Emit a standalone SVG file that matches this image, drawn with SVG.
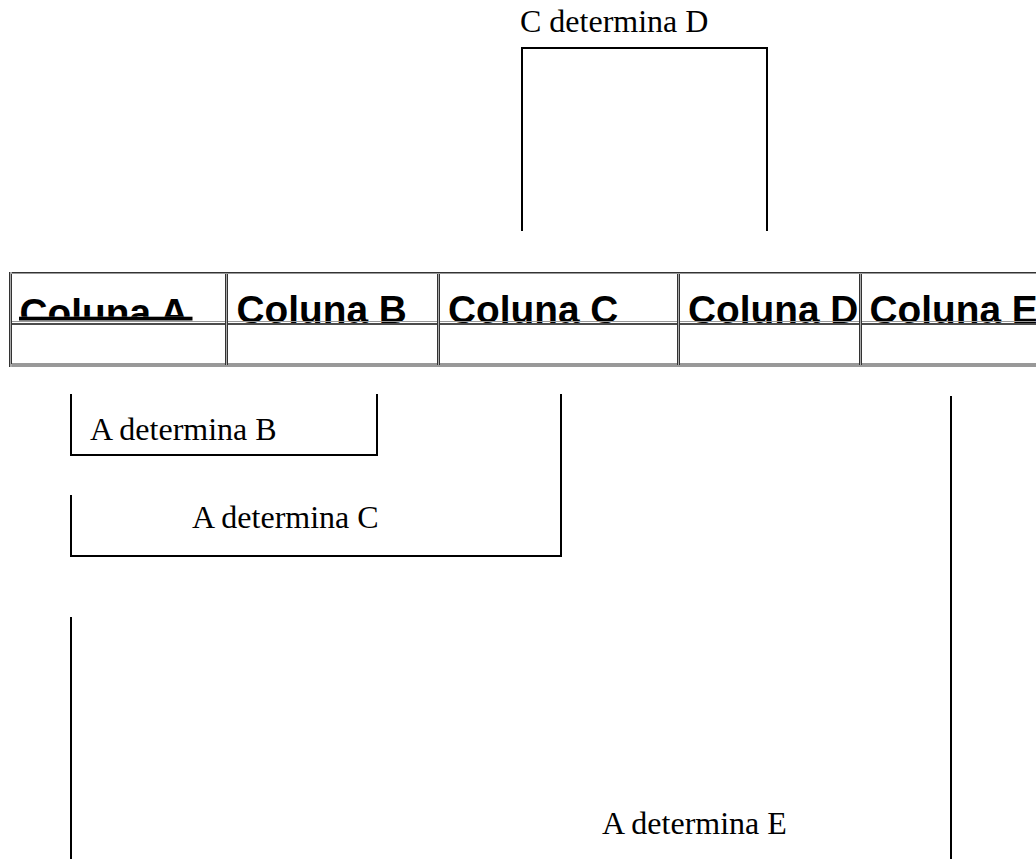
<svg xmlns="http://www.w3.org/2000/svg" width="1036" height="859" viewBox="0 0 1036 859">
<style>
.hd{font-family:"Liberation Sans",Arial,sans-serif;font-weight:bold;font-size:38.8px;fill:#000}
.lb{font-family:"Liberation Serif","Times New Roman",serif;font-size:32px;fill:#000}
.ln{fill:none;stroke:#000;stroke-width:2;stroke-linecap:square}
.dk{stroke:#333;stroke-width:1}
.gy{stroke:#999;stroke-width:1}
</style>
<defs>
<clipPath id="clipA"><rect x="0" y="270" width="230" height="46.7"/></clipPath>
</defs>
<rect width="1036" height="859" fill="#fff"/>
<g id="table">
<text class="hd" x="19.5" y="326.4" clip-path="url(#clipA)">Coluna A</text>
<rect x="19" y="316.7" width="173.5" height="3.8" fill="#000"/>
<text class="hd" x="236.5" y="323">Coluna B</text>
<text class="hd" x="448" y="323">Coluna C</text>
<text class="hd" x="688" y="323">Coluna D</text>
<text class="hd" x="869.5" y="323">Coluna E</text>
<line class="dk" x1="9" y1="272.5" x2="1036" y2="272.5"/>
<line class="gy" x1="11" y1="273.5" x2="1036" y2="273.5"/>
<line class="gy" x1="11" y1="321.5" x2="1036" y2="321.5"/>
<line x1="11" y1="324" x2="1036" y2="324" stroke="#111" stroke-width="1.6"/>
<line class="dk" x1="11" y1="364" x2="1036" y2="364"/>
<line x1="9" y1="366" x2="1036" y2="366" stroke="#999" stroke-width="2"/>
<g id="dividers">
<rect x="9" y="272" width="3" height="95" fill="#aaa"/>
<line class="dk" x1="9.5" y1="272" x2="9.5" y2="367"/>
<line class="dk" x1="11.5" y1="274" x2="11.5" y2="364"/>
<rect x="225" y="274" width="3" height="91" fill="#aaa"/>
<line class="dk" x1="225.5" y1="274" x2="225.5" y2="365"/>
<line class="dk" x1="227.5" y1="274" x2="227.5" y2="365"/>
<rect x="437" y="274" width="3" height="91" fill="#aaa"/>
<line class="dk" x1="437.5" y1="274" x2="437.5" y2="365"/>
<line class="dk" x1="439.5" y1="274" x2="439.5" y2="365"/>
<rect x="677" y="274" width="3" height="91" fill="#aaa"/>
<line class="dk" x1="677.5" y1="274" x2="677.5" y2="365"/>
<line class="dk" x1="679.5" y1="274" x2="679.5" y2="365"/>
<rect x="859" y="274" width="3" height="91" fill="#aaa"/>
<line class="dk" x1="859.5" y1="274" x2="859.5" y2="365"/>
<line class="dk" x1="861.5" y1="274" x2="861.5" y2="365"/>
</g>
</g>
<g id="connectors">
<polyline id="cd" class="ln" points="522,230 522,48 767,48 767,230"/>
<polyline id="ab" class="ln" points="71,395 71,455 377,455 377,395"/>
<polyline id="ac" class="ln" points="71,496 71,556 561,556 561,395"/>
<line id="ae-left" class="ln" x1="71" y1="618" x2="71" y2="860"/>
<line id="ae-right" class="ln" x1="951" y1="397" x2="951" y2="860"/>
</g>
<g id="labels">
<text class="lb" x="520" y="32">C determina D</text>
<text class="lb" x="90" y="439.5">A determina B</text>
<text class="lb" x="192" y="528">A determina C</text>
<text class="lb" x="602" y="834">A determina E</text>
</g>
</svg>
